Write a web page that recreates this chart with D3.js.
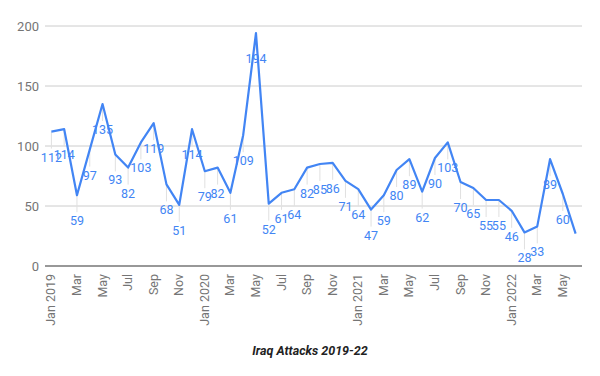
<!DOCTYPE html>
<html>
<head>
<meta charset="utf-8">
<script src="https://cdn.jsdelivr.net/npm/d3@7"></script>
<style>
  body { margin: 0; background: #fff; }
  svg { display: block; font-family: Roboto, Arial, sans-serif; }
</style>
</head>
<body>
<div id="chart"></div>
<script>
// monthly attacks, Jan 2019 .. Jun 2022
const months = [
  'Jan 2019','Feb 2019','Mar 2019','Apr 2019','May 2019','Jun 2019','Jul 2019','Aug 2019','Sep 2019','Oct 2019','Nov 2019','Dec 2019',
  'Jan 2020','Feb 2020','Mar 2020','Apr 2020','May 2020','Jun 2020','Jul 2020','Aug 2020','Sep 2020','Oct 2020','Nov 2020','Dec 2020',
  'Jan 2021','Feb 2021','Mar 2021','Apr 2021','May 2021','Jun 2021','Jul 2021','Aug 2021','Sep 2021','Oct 2021','Nov 2021','Dec 2021',
  'Jan 2022','Feb 2022','Mar 2022','Apr 2022','May 2022','Jun 2022'
];
const attacks = [
  112, 114, 59, 97, 135, 93, 82, 103, 119, 68, 51, 114,
  79, 82, 61, 109, 194, 52, 61, 64, 82, 85, 86, 71,
  64, 47, 59, 80, 89, 62, 90, 103, 70, 65, 55, 55,
  46, 28, 33, 89, 60, 27
];
// last point carries no label in the original
const showLabel = attacks.map((d, i) => i < attacks.length - 1);
const yTicks = [0, 50, 100, 150, 200];
const title = 'Iraq Attacks 2019-22';

const W = 600, H = 376;
const margin = { top: 26, right: 18, bottom: 110, left: 45 };
const w = W - margin.left - margin.right;
const h = H - margin.top - margin.bottom;

const svg = d3.select('#chart').append('svg')
  .attr('width', W).attr('height', H);
const g = svg.append('g')
  .attr('transform', `translate(${margin.left},${margin.top})`);

const x = d3.scalePoint().domain(months).range([0, w]).padding(0.5);
const y = d3.scaleLinear().domain([0, 200]).range([h, 0]);

// grid
g.selectAll('.grid')
  .data(yTicks.filter(t => t > 0))
  .join('line')
  .attr('x1', 0).attr('x2', w)
  .attr('y1', d => y(d)).attr('y2', d => y(d))
  .attr('stroke', '#cccccc').attr('stroke-width', 1);

// y labels
g.selectAll('.ylab')
  .data(yTicks)
  .join('text')
  .attr('x', -6).attr('y', d => y(d))
  .attr('dy', '0.35em')
  .attr('text-anchor', 'end')
  .attr('font-size', 13).attr('fill', '#757575')
  .text(d => d);

// baseline
g.append('line')
  .attr('x1', 0).attr('x2', w)
  .attr('y1', h).attr('y2', h)
  .attr('stroke', '#333').attr('stroke-width', 1.2);

// x labels every other month
g.selectAll('.xlab')
  .data(months.filter((m, i) => i % 2 === 0))
  .join('text')
  .attr('transform', d => `translate(${x(d) + 4},${h + 8}) rotate(-90)`)
  .attr('text-anchor', 'end')
  .attr('font-size', 12.5).attr('fill', '#757575')
  .text(d => d.startsWith('Jan') ? d : d.slice(0, 3));

// annotation stems
g.selectAll('.stem')
  .data(attacks)
  .join('line')
  .attr('x1', (d, i) => x(months[i])).attr('x2', (d, i) => x(months[i]))
  .attr('y1', d => y(d)).attr('y2', d => y(d) + 17)
  .attr('stroke', '#e0e0e0').attr('stroke-width', 1)
  .attr('opacity', (d, i) => showLabel[i] ? 1 : 0);

// line
const line = d3.line()
  .x((d, i) => x(months[i]))
  .y(d => y(d));
g.append('path')
  .datum(attacks)
  .attr('d', line)
  .attr('fill', 'none')
  .attr('stroke', '#4285f4')
  .attr('stroke-width', 2.2)
  .attr('stroke-linejoin', 'round');

// value labels
g.selectAll('.val')
  .data(attacks)
  .join('text')
  .filter((d, i) => showLabel[i])
  .attr('x', (d, i) => x(months[i]))
  .attr('y', d => y(d) + 30)
  .attr('text-anchor', 'middle')
  .attr('font-size', 12.5).attr('fill', '#4285f4')
  .text(d => d);

// title
svg.append('text')
  .attr('x', 310).attr('y', 355)
  .attr('text-anchor', 'middle')
  .attr('font-size', 12.5).attr('font-weight', 'bold').attr('font-style', 'italic')
  .attr('fill', '#222')
  .text(title);
</script>
</body>
</html>
